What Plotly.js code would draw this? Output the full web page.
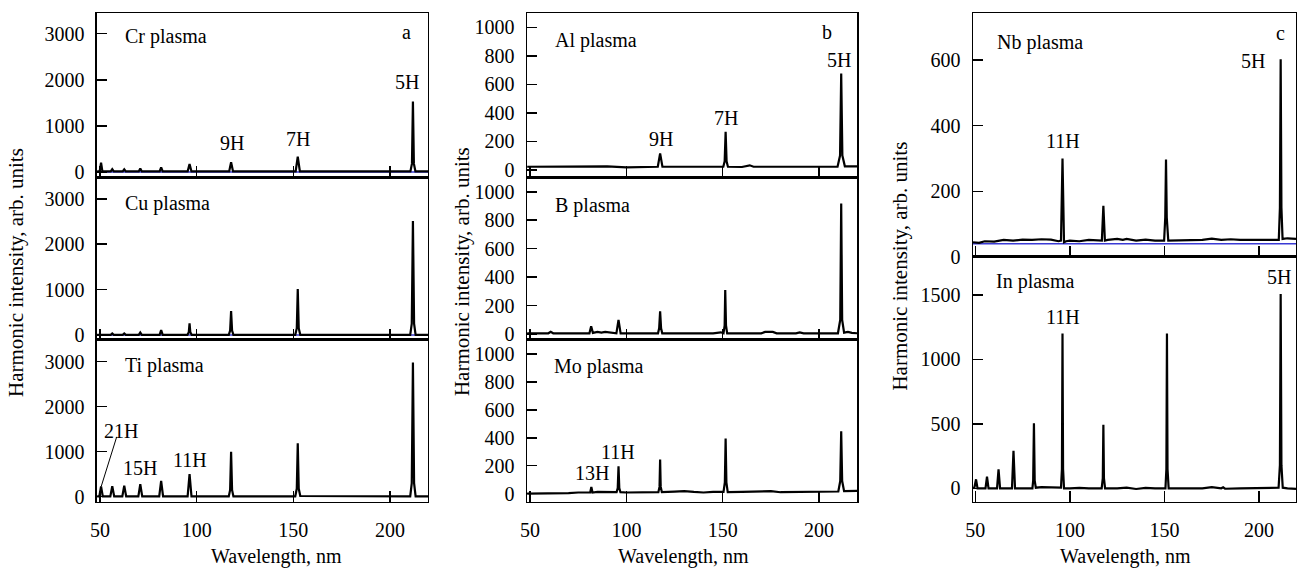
<!DOCTYPE html>
<html><head><meta charset="utf-8">
<script src="https://cdn.plot.ly/plotly-3.0.1.min.js"></script>
<style>html,body{margin:0;padding:0;background:#fff}#chart{width:1299px;height:568px}</style>
</head><body><div id="chart"></div>
<script>
// ---------- data ----------
const tickWave = [50, 100, 150, 200];
const ticksA = [0, 1000, 2000, 3000];
const ticksB = [0, 200, 400, 600, 800, 1000];
const ticksNb = [0, 200, 400, 600];
const ticksIn = [0, 500, 1000, 1500];

// Panel a
const crX = [48.5, 49.8, 50.5, 51.2, 55.5, 56.3, 57.1, 61.7, 62.5, 63.3, 70.0, 70.8, 71.6, 80.8, 81.6, 82.4, 95.3, 96.3, 97.3, 116.8, 117.8, 118.8, 151.2, 152.3, 153.4, 210.6, 211.4, 211.9, 212.4, 213.2, 220];
const crY = [10, 10, 200, 10, 10, 60, 10, 10, 55, 10, 10, 75, 10, 10, 100, 10, 10, 170, 10, 10, 210, 10, 10, 330, 10, 10, 180, 1530, 180, 10, 10];
const cuX = [48.5, 55.5, 56.3, 57.1, 61.7, 62.5, 63.3, 70.0, 70.8, 71.6, 80.8, 81.6, 82.4, 95.2, 95.9, 96.3, 96.7, 97.4, 116.6, 117.3, 117.8, 118.3, 119.0, 151.0, 151.8, 152.3, 152.8, 153.6, 210.5, 211.3, 211.9, 212.5, 213.3, 220];
const cuY = [5, 5, 35, 5, 5, 35, 5, 5, 55, 5, 5, 110, 5, 5, 60, 255, 60, 5, 5, 100, 530, 100, 5, 5, 150, 1010, 150, 5, 5, 250, 2510, 250, 5, 5];
const tiX = [48.5, 49.6, 50.5, 51.4, 55.3, 56.3, 57.3, 61.5, 62.5, 63.5, 69.8, 70.8, 71.8, 80.6, 81.6, 82.6, 95.3, 96.3, 97.3, 116.6, 117.3, 117.8, 118.3, 119.0, 151.0, 151.8, 152.3, 152.8, 153.6, 155, 185, 210.5, 211.3, 211.9, 212.5, 213.3, 220];
const tiY = [5, 5, 225, 5, 5, 235, 5, 5, 245, 5, 5, 280, 5, 5, 350, 5, 5, 500, 5, 5, 150, 1000, 150, 5, 5, 180, 1185, 180, 15, 15, 5, 5, 300, 2980, 300, 5, 5];

// Panel b
const alX = [48.5, 60, 75, 80, 90, 100, 110, 116.3, 117.5, 118.7, 125, 140, 150.3, 151.0, 151.5, 152.0, 152.7, 160, 164, 166, 170, 175, 180, 185, 190, 200, 209.6, 210.9, 211.5, 212.1, 213.4, 220];
const alY = [22, 22, 25, 22, 25, 18, 22, 22, 116, 22, 22, 20, 22, 60, 267, 60, 22, 20, 32, 22, 22, 18, 22, 18, 22, 22, 22, 100, 675, 100, 25, 25];
const bX = [48.5, 59.5, 60.7, 62, 75, 80.8, 81.7, 82.6, 85, 87, 89, 94.8, 95.9, 97.0, 100, 116.4, 117.0, 117.5, 118.0, 118.6, 130, 145, 149, 150.4, 151.0, 151.3, 151.7, 152.3, 160, 170, 172, 176, 178, 188, 190, 192, 209.8, 211.0, 211.5, 212.0, 213.0, 215, 217, 220];
const bY = [5, 5, 15, 5, 5, 5, 54, 8, 15, 10, 15, 5, 99, 5, 5, 5, 40, 160, 40, 5, 5, 5, 12, 5, 60, 310, 60, 5, 5, 5, 15, 15, 5, 5, 12, 5, 5, 100, 918, 100, 10, 15, 8, 5];
const moX = [48.5, 60, 70, 75, 81.2, 81.8, 82.4, 85, 90, 94.9, 95.5, 95.9, 96.3, 96.9, 100, 110, 116.6, 117.2, 117.5, 117.8, 118.4, 125, 130, 135, 140, 145, 150.4, 151.1, 151.5, 151.9, 152.6, 160, 170, 175, 180, 190, 200, 210.0, 211.0, 211.5, 212.0, 213.0, 220];
const moY = [0, 0, 3, 8, 8, 48, 8, 12, 12, 10, 40, 196, 40, 10, 8, 12, 10, 50, 244, 50, 10, 15, 18, 12, 8, 12, 12, 80, 395, 80, 10, 12, 18, 18, 10, 10, 12, 15, 90, 447, 90, 18, 20];

// Panel c
const nbX = [48.8, 52, 55, 60, 65, 70, 75, 80, 85, 90, 94, 95.3, 96.1, 96.9, 98, 100, 105, 110, 116.9, 117.7, 118.5, 120, 125, 128, 130, 135, 140, 145, 149.8, 150.4, 150.8, 151.2, 152.0, 160, 170, 175, 180, 185, 190, 200, 208, 210.4, 211.0, 211.4, 211.8, 212.4, 215, 219.5];
const nbY = [45, 43, 48, 47, 52, 50, 53, 52, 54, 53, 48, 50, 300, 45, 48, 50, 48, 52, 50, 156, 50, 52, 55, 52, 55, 50, 53, 50, 50, 120, 297, 120, 50, 50, 52, 56, 52, 54, 52, 52, 52, 52, 150, 602, 150, 55, 57, 55];
const nbRefX = [48.8, 219.5];
const nbRefY = [40, 40];
const inX = [48.8, 49.6, 50.4, 51.2, 55.4, 56.2, 57.0, 61.5, 62.3, 63.1, 69.4, 70.2, 71.0, 80.2, 80.6, 81.0, 81.4, 82.0, 85, 90, 95.3, 95.8, 96.1, 96.4, 96.9, 100, 105, 110, 116.8, 117.4, 117.7, 118.0, 118.6, 125, 130, 135, 140, 145, 150.5, 151.0, 151.3, 151.6, 152.2, 160, 170, 175, 180, 181, 182, 190, 200, 208, 210.3, 211.0, 211.4, 211.8, 212.5, 215, 219.5];
const inY = [0, 10, 70, 0, 0, 90, 0, 0, 147, 0, 0, 292, 0, 0, 60, 504, 60, 5, 10, 8, 5, 150, 1202, 150, 0, 0, 3, 0, 0, 80, 494, 80, 0, 0, 5, -5, 3, 0, 0, 150, 1202, 150, 0, 0, 0, 10, 0, 8, -3, 0, 0, 0, 5, 180, 1508, 180, 5, 0, -5];

const zeroRefX = [48.4, 219.7];
const zeroRefY = [0, 0];

// ---------- styling ----------
const FONT = '"Liberation Serif", serif';
const BLACK = '#000';
const BLUE = '#3a3ad4';

function line(x, y, xa, ya, color, w) {
  return {type: 'scatter', mode: 'lines', x: x, y: y, xaxis: xa, yaxis: ya,
    line: {color: color, width: w}, hoverinfo: 'skip'};
}

const traces = [
  line(zeroRefX, zeroRefY, 'x', 'y', BLUE, 1.5),
  line(crX, crY, 'x', 'y', BLACK, 2.2),
  line(zeroRefX, zeroRefY, 'x2', 'y2', BLUE, 1.5),
  line(cuX, cuY, 'x2', 'y2', BLACK, 2.2),
  line(tiX, tiY, 'x3', 'y3', BLACK, 2.2),
  line(alX, alY, 'x4', 'y4', BLACK, 2.2),
  line(bX, bY, 'x5', 'y5', BLACK, 2.2),
  line(moX, moY, 'x6', 'y6', BLACK, 2.2),
  line(nbRefX, nbRefY, 'x7', 'y7', BLUE, 1.5),
  line(nbX, nbY, 'x7', 'y7', BLACK, 2.2),
  line(inX, inY, 'x8', 'y8', BLACK, 2.2)
];

function xAxis(domain, range, anchor, labels) {
  return {domain: domain, range: range, anchor: anchor, tickvals: tickWave,
    ticks: 'inside', ticklen: 11, tickwidth: 1.5, tickcolor: BLACK,
    showline: true, mirror: true, linecolor: BLACK, linewidth: 1.5,
    showgrid: false, zeroline: false, showticklabels: labels,
    ticklabelstandoff: 10,
    tickfont: {family: FONT, size: 20, color: BLACK}, fixedrange: true};
}
function yAxis(domain, range, anchor, vals) {
  return {domain: domain, range: range, anchor: anchor, tickvals: vals,
    ticks: 'inside', ticklen: 10, tickwidth: 1.5, tickcolor: BLACK,
    showline: true, mirror: true, linecolor: BLACK, linewidth: 1.5,
    showgrid: false, zeroline: false, ticklabelstandoff: 7,
    tickfont: {family: FONT, size: 20, color: BLACK}, fixedrange: true};
}

const colA = [0.07467, 0.32948], colB = [0.40570, 0.65974], colC = [0.74904, 0.99769];
const r1 = [0.68838, 0.97711], r2 = [0.40141, 0.68838], r3 = [0.11620, 0.40141];
const cTop = [0.54754, 0.97711], cBot = [0.11620, 0.54754];
const rangeAB = [48.4, 219.7], rangeC = [48.8, 219.5];

function lab(text, xref, yref, x, y, anchor, size) {
  return {text: text, xref: xref, yref: yref, x: x, y: y, xanchor: anchor || 'center',
    yanchor: 'middle', showarrow: false, font: {family: FONT, size: size || 20, color: BLACK}};
}

const annotations = [
  lab('Cr plasma', 'x', 'y', 61.9, 2935, 'left'),
  lab('a', 'x', 'y', 208.8, 3030),
  lab('5H', 'x', 'y', 209, 1963),
  lab('9H', 'x', 'y', 118.2, 624),
  lab('7H', 'x', 'y', 152.2, 711),
  lab('Cu plasma', 'x2', 'y2', 61.9, 2906, 'left'),
  lab('Ti plasma', 'x3', 'y3', 61.9, 2924, 'left'),
  lab('21H', 'x3', 'y3', 60.9, 1465),
  lab('15H', 'x3', 'y3', 70.7, 630),
  lab('11H', 'x3', 'y3', 96.3, 815),
  lab('Al plasma', 'x4', 'y4', 62, 909, 'left'),
  lab('b', 'x4', 'y4', 204, 967),
  lab('5H', 'x4', 'y4', 210.6, 769),
  lab('7H', 'x4', 'y4', 151.8, 361),
  lab('9H', 'x4', 'y4', 117.9, 215),
  lab('B plasma', 'x5', 'y5', 61.7, 906, 'left'),
  lab('Mo plasma', 'x6', 'y6', 61.3, 909, 'left'),
  lab('11H', 'x6', 'y6', 95.5, 299),
  lab('13H', 'x6', 'y6', 82, 148),
  lab('Nb plasma', 'x7', 'y7', 60.6, 652, 'left'),
  lab('c', 'x7', 'y7', 211.4, 683),
  lab('5H', 'x7', 'y7', 196.6, 596),
  lab('11H', 'x7', 'y7', 96.1, 352),
  lab('In plasma', 'x8', 'y8', 60.1, 1603, 'left'),
  lab('11H', 'x8', 'y8', 96.1, 1332),
  lab('5H', 'x8', 'y8', 210.7, 1642),
  // axis titles
  lab('Wavelength, nm', 'paper', 'paper', 0.2130, 0.0194),
  lab('Wavelength, nm', 'paper', 'paper', 0.5260, 0.0194),
  lab('Wavelength, nm', 'paper', 'paper', 0.8661, 0.0194)
];
const yTitles = [[0.0123, 0.5211], [0.3557, 0.5211], [0.6921, 0.5308]];
yTitles.forEach(p => {
  const a = lab('Harmonic intensity, arb. units', 'paper', 'paper', p[0], p[1], 'center', 21);
  a.textangle = -90;
  annotations.push(a);
});

const layout = {
  width: 1299, height: 568,
  margin: {l: 0, r: 0, t: 0, b: 0},
  paper_bgcolor: '#fff', plot_bgcolor: '#fff',
  showlegend: false,
  font: {family: FONT, size: 20, color: BLACK},
  xaxis: xAxis(colA, rangeAB, 'y', false),
  yaxis: yAxis(r1, [-110, 3450], 'x', ticksA),
  xaxis2: xAxis(colA, rangeAB, 'y2', false),
  yaxis2: yAxis(r2, [-110, 3480], 'x2', ticksA),
  xaxis3: xAxis(colA, rangeAB, 'y3', true),
  yaxis3: yAxis(r3, [-118, 3480], 'x3', ticksA),
  xaxis4: xAxis(colB, rangeAB, 'y4', false),
  yaxis4: yAxis(r1, [-50, 1100], 'x4', ticksB),
  xaxis5: xAxis(colB, rangeAB, 'y5', false),
  yaxis5: yAxis(r2, [-42, 1104], 'x5', ticksB),
  xaxis6: xAxis(colB, rangeAB, 'y6', true),
  yaxis6: yAxis(r3, [-60, 1100], 'x6', ticksB),
  xaxis7: xAxis(colC, rangeC, 'y7', false),
  yaxis7: yAxis(cTop, [0, 743], 'x7', ticksNb),
  xaxis8: xAxis(colC, rangeC, 'y8', true),
  yaxis8: yAxis(cBot, [-106, 1795], 'x8', ticksIn),
  annotations: annotations,
  shapes: [
    {type: 'line', xref: 'x3', yref: 'y3', x0: 58.6, y0: 1330, x1: 50.6, y1: 230,
     line: {color: BLACK, width: 1}}
  ]
};

Plotly.newPlot('chart', traces, layout, {staticPlot: true, displayModeBar: false});
</script>
</body></html>
